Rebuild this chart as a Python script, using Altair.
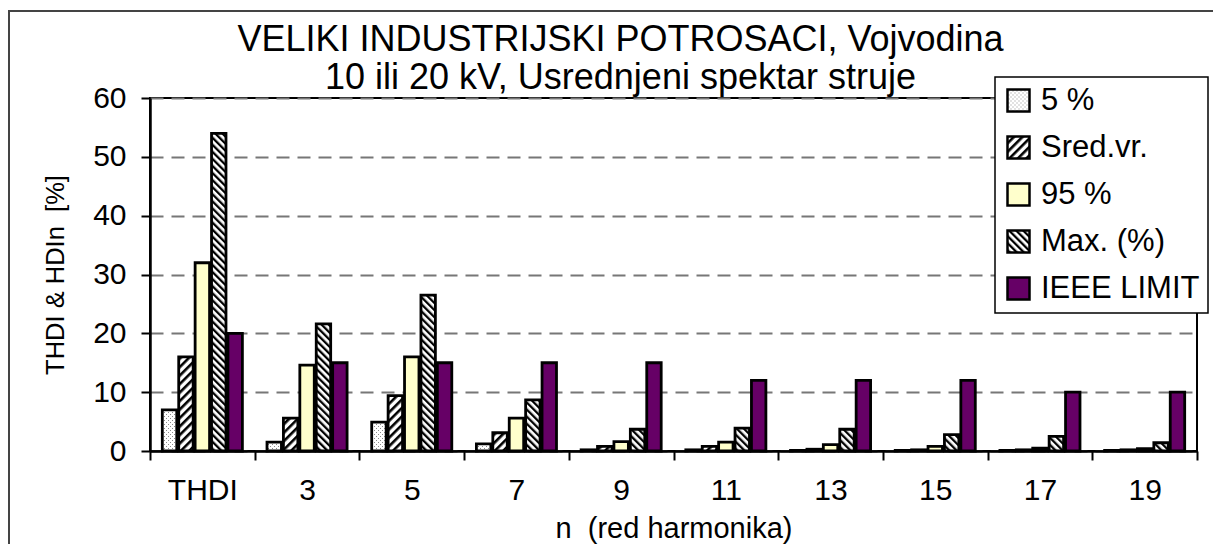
import altair as alt
import pandas as pd
import jinja2

# ---- data ----
categories = ["THDI", "3", "5", "7", "9", "11", "13", "15", "17", "19"]
series = ["5 %", "Sred.vr.", "95 %", "Max. (%)", "IEEE LIMIT"]
v_p5 = [7.0, 1.5, 4.9, 1.2, 0.2, 0.2, 0.1, 0.1, 0.1, 0.1]
v_sred = [16.0, 5.6, 9.4, 3.1, 0.8, 0.8, 0.3, 0.2, 0.2, 0.2]
v_p95 = [32.0, 14.6, 16.0, 5.6, 1.6, 1.5, 1.1, 0.8, 0.5, 0.4]
v_max = [54.0, 21.6, 26.5, 8.7, 3.7, 3.9, 3.7, 2.8, 2.5, 1.4]
v_ieee = [20, 15, 15, 15, 15, 12, 12, 12, 10, 10]
y_ticks = [0, 10, 20, 30, 40, 50, 60]

values = [v_p5, v_sred, v_p95, v_max, v_ieee]
rows = []
for s, vals in zip(series, values):
    for c, v in zip(categories, vals):
        rows.append({"n": c, "serija": s, "vrednost": v})
df = pd.DataFrame(rows)

FONT = "Liberation Sans"
fills = ["url(#pat5)", "url(#patSred)", "#ffffcc", "url(#patMax)", "#660066"]

bars = alt.Chart(df).mark_bar(stroke="black", strokeWidth=2.8).encode(
    x=alt.X("n:N", sort=categories,
            scale=alt.Scale(paddingInner=0, paddingOuter=0),
            axis=alt.Axis(title="n\u00a0\u00a0(red harmonika)", labelAngle=0, tickBand="extent",
                          labelFontSize=30, titleFontSize=29, labelPadding=15,
                          titlePadding=9, tickSize=9)),
    xOffset=alt.XOffset("serija:N", sort=series,
                        scale=alt.Scale(paddingInner=0.12, paddingOuter=0.75)),
    y=alt.Y("vrednost:Q", scale=alt.Scale(domain=[0, 60], nice=False),
            axis=alt.Axis(title="THDI & HDIn\u00a0\u00a0[%]", values=y_ticks, labelFontSize=30,
                          titleFontSize=25.5, tickSize=9, labelPadding=15, titlePadding=24,
                          grid=True, gridDash=[13, 8], gridColor="#777777", gridWidth=2)),
    color=alt.Color("serija:N", sort=series,
                    scale=alt.Scale(domain=series, range=fills),
                    legend=alt.Legend(title=None, orient="none", legendX=845, legendY=-21,
                                      symbolType="square", symbolSize=484,
                                      symbolStrokeColor="black", symbolStrokeWidth=2.5,
                                      symbolOpacity=1, labelFontSize=31, labelFont=FONT,
                                      labelOffset=7, labelLimit=300, rowPadding=14,
                                      padding=8, strokeColor="black",
                                      fillColor="white")),
)

frame = alt.Chart(pd.DataFrame({"k": [0]})).mark_rect(
    filled=False, stroke="#444444", strokeWidth=2
).encode(x=alt.value(-141), x2=alt.value(1200), y=alt.value(-87), y2=alt.value(600))

chart = alt.layer(frame, bars).properties(
    width=1047, height=353,
    padding={"left": 142, "top": 90, "right": 16, "bottom": 93},
    autosize=alt.AutoSizeParams(type="none"),
    title=alt.TitleParams(
        ["VELIKI INDUSTRIJSKI POTROSACI, Vojvodina", "10 ili 20 kV, Usrednjeni spektar struje"],
        fontSize=36, font=FONT, fontWeight="normal", color="black", anchor="middle",
        dx=-53, offset=-87, lineHeight=38),
).configure(font=FONT, background="white").configure_axis(
    labelFont=FONT, titleFont=FONT, labelColor="black", titleColor="black",
    titleFontWeight="normal", domainColor="black", domainWidth=2.5,
    tickColor="black", tickWidth=2,
).configure_axisX(grid=False).configure_view(
    stroke="black", strokeWidth=2
).configure_legend(strokeWidth=1.5)

EMBED = {"renderer": "svg", "actions": False}
defs = (
    '<svg width="0" height="0" style="position:absolute"><defs>'
    '<pattern id="pat5" width="4" height="4" patternUnits="userSpaceOnUse">'
    '<rect width="4" height="4" fill="white"/>'
    '<rect x="0" y="0" width="1" height="1" fill="#8a8a8a"/>'
    '<rect x="2" y="2" width="1" height="1" fill="#8a8a8a"/></pattern>'
    '<pattern id="patSred" width="6" height="6" patternUnits="userSpaceOnUse" patternTransform="rotate(45)">'
    '<rect width="6" height="6" fill="white"/><rect width="2.6" height="6" fill="black"/></pattern>'
    '<pattern id="patMax" width="5" height="5" patternUnits="userSpaceOnUse" patternTransform="rotate(-45)">'
    '<rect width="5" height="5" fill="white"/><rect width="2.3" height="5" fill="black"/></pattern>'
    '</defs></svg>'
)
html = chart.to_html(embed_options=EMBED)
html = html.replace("<body>", "<body>\n" + defs, 1)
template = jinja2.Template("{% raw %}" + html + "{% endraw %}")

chart.save("out.html", embed_options=EMBED, template=template)
